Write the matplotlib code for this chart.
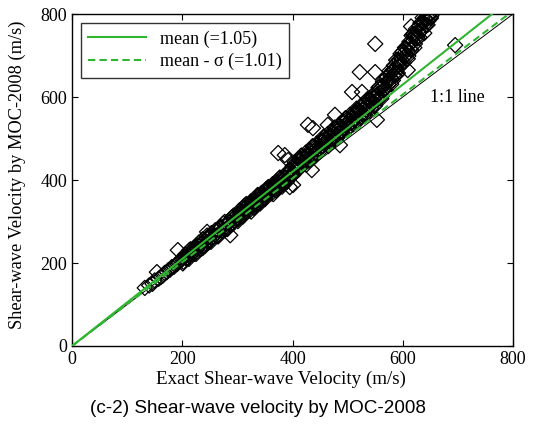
import matplotlib.pyplot as plt
import numpy as np

# exact vs. MOC-2008 shear-wave velocity (m/s)
exact_vs = [
    132, 140, 146, 150, 154, 157, 161, 165, 168, 172, 175, 178, 181, 185, 188, 191, 192, 194, 197,
    200, 202, 205, 207, 210, 212, 215, 217, 220, 222, 225, 227, 230, 232, 235, 237, 240, 242, 245, 247,
    250, 252, 255, 257, 260, 262, 265, 267, 270, 272, 275, 277, 280, 282, 285, 287, 290, 292, 295, 297,
    300, 302, 304, 306, 308, 310, 312, 314, 316, 318, 320, 322, 324, 326, 328, 330, 332, 334, 336, 338,
    340, 342, 344, 346, 348, 350, 352, 354, 356, 358, 360, 362, 364, 366, 368, 370, 372, 374, 376, 378,
    380, 382, 384, 386, 388, 390, 392, 394, 396, 398,
    400, 402, 404, 406, 408, 410, 412, 414, 416, 418, 420, 422, 424, 426, 428, 430, 432, 434, 436, 438,
    440, 442, 444, 446, 448, 450, 452, 454, 456, 458, 460, 462, 464, 466, 468, 470, 472, 474, 476, 478,
    480, 482, 484, 486, 488, 490, 492, 494, 496, 498,
    500, 502, 504, 506, 508, 510, 512, 514, 516, 518, 520, 522, 524, 526, 528, 530, 532, 534, 536, 538,
    540, 542, 544, 546, 548, 550, 552, 554, 556, 558,
    560, 562, 564, 566, 568, 570, 572, 574, 576, 578, 580, 582, 584, 586, 588, 590, 592, 594, 596, 598,
    600, 602, 604, 606, 608, 610, 612, 614, 616, 618, 620, 622, 624, 626, 628, 630, 632, 634, 636, 638,
    640, 642, 644, 646, 648, 650, 652,
    201, 205, 209, 213, 217, 221, 225, 229, 233, 237, 241, 245, 249, 253, 257, 261, 265, 269, 273, 277,
    281, 285, 289, 293, 297,
    301, 305, 309, 313, 317, 321, 325, 329, 333, 337, 341, 345, 349, 353, 357, 361, 365, 369, 373, 377,
    381, 385, 389, 393, 397,
    401, 405, 409, 413, 417, 421, 425, 429, 433, 437, 441, 445, 449, 453, 457, 461, 465, 469, 473, 477,
    481, 485, 489, 493, 497,
    501, 504, 507, 510, 513, 516, 519, 522, 525, 528, 531, 534, 537, 540, 543, 546, 549, 552, 555, 558,
    561, 564, 567, 570, 573, 576, 579, 582, 585, 588, 591, 594, 597, 600, 603, 606, 609, 612, 615, 618,
    621, 624, 627, 630, 633, 636, 639, 642, 645, 648, 651,
    # scattered points
    245, 247, 287, 374, 386, 392, 395, 401, 435, 428, 437, 464, 477, 486,
    508, 526, 522, 550, 550, 553, 609, 615, 620, 695,
]
moc_vs = [
    140, 146, 150, 158, 178, 162, 166, 170, 176, 178, 183, 184, 190, 191, 196, 198, 231, 203, 205,
    212, 203, 220, 211, 219, 210, 233, 221, 232, 222, 240, 233, 249, 234, 246, 236, 255, 248, 266, 249,
    263, 251, 272, 264, 279, 265, 278, 268, 287, 279, 296, 280, 295, 282, 297, 292, 310, 295, 310, 306,
    318, 306, 327, 315, 322, 312, 332, 322, 342, 331, 339, 327, 348, 336, 343, 333, 353, 342, 362, 352,
    360, 348, 369, 357, 364, 354, 374, 363, 383, 372, 380, 368, 390, 378, 385, 375, 395, 384, 404, 393,
    401, 389, 410, 398, 406, 396, 416, 405, 425, 414,
    433, 417, 443, 428, 437, 424, 448, 435, 459, 446, 455, 440, 466, 450, 459, 447, 471, 457, 481, 469,
    478, 462, 488, 473, 482, 469, 493, 480, 504, 491, 500, 485, 511, 495, 504, 491, 516, 502, 526, 513,
    523, 507, 533, 517, 527, 514, 538, 524, 549, 536,
    547, 527, 557, 538, 550, 534, 562, 545, 572, 557, 569, 549, 579, 560, 572, 556, 584, 568, 595, 581,
    592, 573, 603, 585, 596, 581, 610, 595, 623, 610,
    622, 602, 638, 618, 632, 615, 649, 631, 663, 648, 660, 640, 676, 657, 671, 655, 689, 672, 704, 689,
    702, 683, 719, 700, 714, 699, 733, 716, 748, 734, 747, 728, 764, 745, 759, 744, 778, 761, 791, 779,
    790, 773, 794, 783, 796, 791, 796,
    199, 216, 211, 231, 223, 236, 222, 242, 234, 257, 241, 258, 253, 272, 264, 277, 264, 284, 276, 299,
    282, 299, 295, 314, 306,
    301, 321, 315, 338, 328, 342, 324, 348, 337, 364, 343, 363, 357, 379, 369, 383, 366, 390, 379, 406,
    384, 404, 399, 421, 411,
    412, 435, 429, 452, 442, 457, 437, 463, 452, 481, 457, 479, 474, 496, 487, 501, 482, 508, 497, 526,
    502, 524, 519, 541, 532,
    524, 545, 538, 560, 549, 562, 542, 567, 554, 583, 557, 579, 573, 594, 584, 598, 578, 604, 594, 624,
    596, 626, 618, 648, 636, 655, 631, 665, 651, 689, 658, 688, 680, 710, 697, 716, 692, 727, 713, 751,
    719, 749, 741, 771, 759, 778, 754, 788, 774, 797, 790,
    275, 251, 267, 465, 460, 448, 383, 388, 424, 533, 525, 533, 557, 484,
    612, 612, 660, 660, 728, 545, 665, 770, 752, 725,
]

mean_ratio = 1.05
mean_minus_sd = 1.01
green = '#2fb52f'

plt.rcParams['font.family'] = ['Liberation Serif', 'DejaVu Serif']
plt.rcParams['font.size'] = 13

fig = plt.figure(figsize=(5.39, 4.26), dpi=100)
ax = fig.add_axes([0.1336, 0.1878, 0.8182, 0.7793])

ax.scatter(exact_vs, moc_vs, marker='D', s=60, facecolors='none',
           edgecolors='black', linewidths=0.9, zorder=2)

xx = np.array([0, 800])
ax.plot(xx, xx, color='black', lw=0.7, zorder=3)
ax.plot(xx, mean_ratio * xx, color=green, lw=1.5, zorder=4, label='mean (=1.05)')
ax.plot(xx, mean_minus_sd * xx, color=green, lw=1.5, ls=(0, (3.5, 2)), zorder=4,
        label='mean - \u03c3 (=1.01)')

ax.text(650, 598, '1:1 line', fontsize=13, va='center', ha='left')

ax.set_xlim(0, 800)
ax.set_ylim(0, 800)
ax.set_xticks([0, 200, 400, 600, 800])
ax.set_yticks([0, 200, 400, 600, 800])
ax.tick_params(direction='in', top=True, right=True, length=4, labelsize=13)
for sp in ax.spines.values():
    sp.set_linewidth(1.0)

ax.set_xlabel('Exact Shear-wave Velocity (m/s)', fontsize=13.7, labelpad=2)
ax.xaxis.set_label_coords(0.474, -0.075)
ax.set_ylabel('Shear-wave Velocity by MOC-2008 (m/s)', fontsize=13.2)
ax.yaxis.set_label_coords(-0.105, 0.515)

leg = ax.legend(loc='upper left', fontsize=13, handlelength=3.2, frameon=True,
                fancybox=False, edgecolor='black', borderaxespad=0.5,
                labelspacing=0.3)
leg.get_frame().set_linewidth(1.0)

fig.text(0.479, 0.04, '(c-2) Shear-wave velocity by MOC-2008', ha='center',
         va='center', fontsize=13.6, family=['Liberation Sans', 'DejaVu Sans'])

fig.savefig('out.png', dpi=100)
